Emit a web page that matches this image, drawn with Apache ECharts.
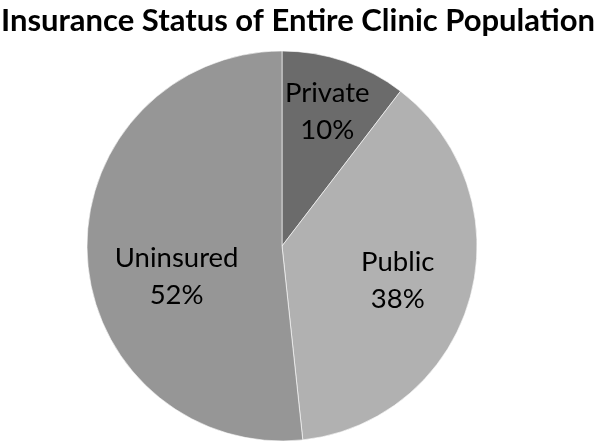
<!DOCTYPE html>
<html>
<head>
<meta charset="utf-8">
<script src="https://cdn.jsdelivr.net/npm/echarts@6/dist/echarts.min.js"></script>
<style>
  html, body { margin: 0; padding: 0; background: #fff; }
  #chart { width: 596px; height: 446px; }
</style>
</head>
<body>
<div id="chart"></div>
<script>
// slices, clockwise from 12 o'clock
const categories = ['Private', 'Public', 'Uninsured']
const values = [10.4, 37.9, 51.7]
const colors = ['#6b6b6b', '#b1b1b1', '#969696']
// nudge labels to where Excel put them
const labelOffsets = [[13, -39], [19, 7], [-5, 25]]

const chart = echarts.init(document.getElementById('chart'))

const options = {
  backgroundColor: '#fff',
  animation: false,
  title: {
    text: 'Insurance Status of Entire Clinic Population',
    left: 'center',
    top: 0,
    textStyle: {
      fontFamily: 'Lato',
      fontWeight: 'bold',
      fontSize: 31,
      color: '#000',
    },
  },
  series: [
    {
      type: 'pie',
      center: [282, 246],
      radius: 195,
      startAngle: 90,
      clockwise: true,
      itemStyle: {
        borderColor: '#fff',
        borderWidth: 0.6,
      },
      label: {
        show: true,
        position: 'inside',
        fontFamily: 'Lato',
        fontSize: 27.5,
        lineHeight: 37,
        color: '#000',
        formatter: (p) => p.name + '\n' + Math.round(p.percent) + '%',
      },
      labelLine: { show: false },
      emphasis: { disabled: true },
      data: categories.map((name, i) => ({
        name: name,
        value: values[i],
        itemStyle: { color: colors[i] },
        label: { offset: labelOffsets[i] },
      })),
    },
  ],
}

chart.setOption(options)
</script>
</body>
</html>
